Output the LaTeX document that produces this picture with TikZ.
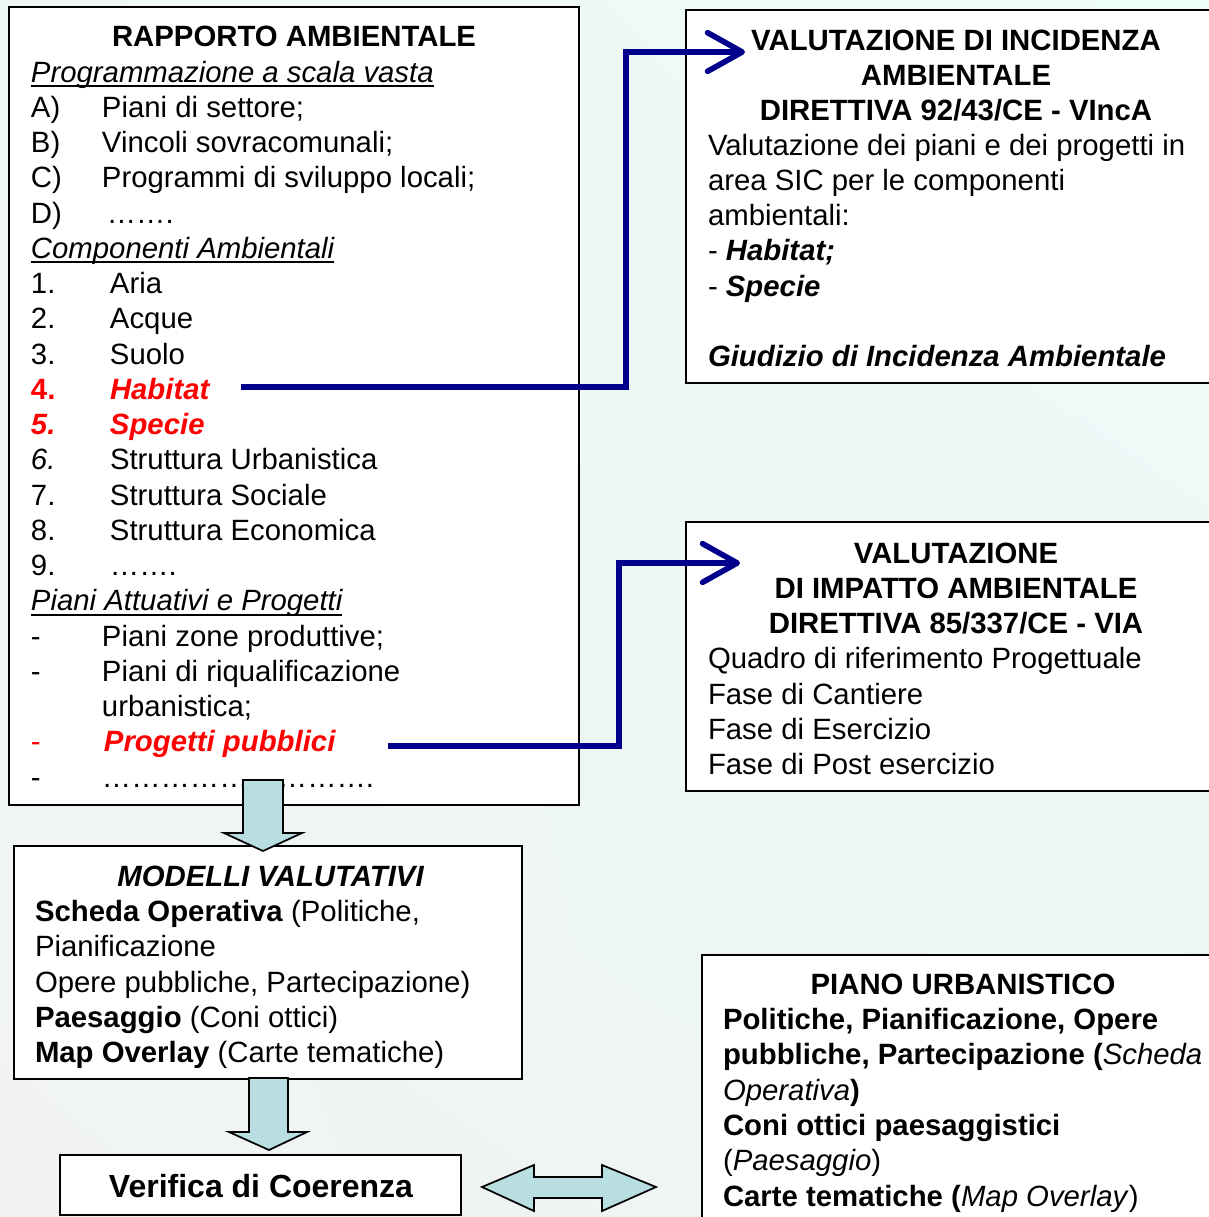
\documentclass[tikz,border=0pt]{standalone}
\usepackage{fontspec}
\setmainfont{Liberation Sans}
\usetikzlibrary{arrows.meta,fit,shadings}
\definecolor{navyline}{RGB}{0,0,140}
\definecolor{barrow}{RGB}{184,222,226}
\definecolor{bgul}{RGB}{238,247,245}
\definecolor{bgur}{RGB}{238,252,250}
\definecolor{bgll}{RGB}{241,243,242}
\definecolor{bglr}{RGB}{236,246,244}
\newcommand\fs{\fontsize{22}{26}\selectfont}
\newcommand\myul[1]{\setbox0\hbox{#1}\rlap{\rule[-3.8pt]{\wd0}{1.4pt}}\box0}
\newcommand\lbA[1]{\makebox[53.25pt][l]{#1}}
\newcommand\lbN[1]{\makebox[59.25pt][l]{#1}}
\begin{document}
\begin{tikzpicture}[x=0.75pt,y=-0.75pt,
  txt/.style={inner sep=0pt,outer sep=0pt,anchor=base west,font=\fs},
  ctxt/.style={txt,anchor=base},
  box/.style={draw=black,line width=1.4pt,fill=white,inner sep=0pt},
  conn/.style={draw=navyline,line width=4.2pt,line join=miter,-{Straight Barb[length=26pt,width=29pt,round]}},
  blockarrow/.style={draw=black,line width=1.3pt,fill=barrow,line join=miter}]
\useasboundingbox (0,0) rectangle (1209,1217);
\shade[upper left=bgul, upper right=bgur, lower left=bgll, lower right=bglr] (0,0) rectangle (1209,1217);

% boxes
\node[box,fit={(9,7) (579,805)}] (ra) {};
\node[box,fit={(686,10) (1230,383)}] (vinca) {};
\node[box,fit={(686,522) (1230,791)}] (via) {};
\node[box,fit={(14,846) (522,1079)}] (mod) {};
\node[box,fit={(60,1155) (461,1215)}] (ver) {};
\node[box,fit={(702,955) (1230,1240)}] (piano) {};

% Rapporto ambientale
\node[ctxt] (ratitle) at (294,46) {\bfseries RAPPORTO AMBIENTALE};
\node[txt] (ra0) at (31,82) {\myul{\itshape Programmazione a scala vasta}};
\node[txt] (ra1) at (31,117.25) {\lbA{A)}Piani di settore;};
\node[txt] (ra2) at (31,152.5) {\lbA{B)}Vincoli sovracomunali;};
\node[txt] (ra3) at (31,187.75) {\lbA{C)}Programmi di sviluppo locali;};
\node[txt] (ra4) at (31,223) {\lbA{D)}\,…….};
\node[txt] (ra5) at (31,258.25) {\myul{\itshape Componenti Ambientali}};
\node[txt] (ra6) at (31,293.5) {\lbN{1.}Aria};
\node[txt] (ra7) at (31,328.75) {\lbN{2.}Acque};
\node[txt] (ra8) at (31,364) {\lbN{3.}Suolo};
\node[txt,text=red] (hab) at (31,399.25) {\bfseries\lbN{4.}\itshape Habitat};
\node[txt,text=red] (spe) at (31,434.5) {\bfseries\itshape\lbN{5.}Specie};
\node[txt] (ra11) at (31,469.75) {\lbN{\itshape 6.}Struttura Urbanistica};
\node[txt] (ra12) at (31,505) {\lbN{7.}Struttura Sociale};
\node[txt] (ra13) at (31,540.25) {\lbN{8.}Struttura Economica};
\node[txt] (ra14) at (31,575.5) {\lbN{9.}…….};
\node[txt] (ra15) at (31,610.75) {\myul{\itshape Piani Attuativi e Progetti}};
\node[txt] (ra16) at (31,646) {\lbA{-}Piani zone produttive;};
\node[txt] (ra17) at (31,681.25) {\lbA{-}Piani di riqualificazione};
\node[txt] (ra18) at (31,716.5) {\lbA{}urbanistica;};
\node[txt,text=red] (pro) at (31,751.75) {\lbA{-}\kern1.5pt\bfseries\itshape Progetti pubblici};
\node[txt] (ra20) at (31,787) {\lbA{-}……………………….};

% VIncA
\node[ctxt] (vt1) at (956,50) {\bfseries VALUTAZIONE DI INCIDENZA};
\node[ctxt] (vt2) at (956,85) {\bfseries AMBIENTALE};
\node[ctxt] (vt3) at (956,120) {\bfseries DIRETTIVA 92/43/CE - VIncA};
\node[txt] (vb1) at (708,155) {Valutazione dei piani e dei progetti in};
\node[txt] (vb2) at (708,190.25) {area SIC per le componenti};
\node[txt] (vb3) at (708,225.5) {ambientali:};
\node[txt] (vb4) at (708,260.75) {- \textbf{\textit{Habitat;}}};
\node[txt] (vb5) at (708,296) {- \textbf{\textit{Specie}}};
\node[txt] (vb6) at (708,366.5) {\textbf{\textit{Giudizio di Incidenza Ambientale}}};

% VIA
\node[ctxt] (at1) at (956,563) {\bfseries VALUTAZIONE};
\node[ctxt] (at2) at (956,598) {\bfseries DI IMPATTO AMBIENTALE};
\node[ctxt] (at3) at (956,633) {\bfseries DIRETTIVA 85/337/CE - VIA};
\node[txt] (ab1) at (708,668.5) {Quadro di riferimento Progettuale};
\node[txt] (ab2) at (708,704) {Fase di Cantiere};
\node[txt] (ab3) at (708,739) {Fase di Esercizio};
\node[txt] (ab4) at (708,774) {Fase di Post esercizio};

% Modelli valutativi
\node[ctxt] (mt) at (270.5,886) {\bfseries\itshape MODELLI VALUTATIVI};
\node[txt] (m1) at (35,921) {\textbf{Scheda Operativa} (Politiche,};
\node[txt] (m2) at (35,956.5) {Pianificazione};
\node[txt] (m3) at (35,992) {Opere pubbliche, Partecipazione)};
\node[txt] (m4) at (35,1027) {\textbf{Paesaggio} (Coni ottici)};
\node[txt] (m5) at (35,1062) {\textbf{Map Overlay} (Carte tematiche)};

% Verifica
\node[ctxt,font=\fontsize{24}{28}\selectfont] (vt) at (261,1197) {\bfseries Verifica di Coerenza};

% Piano urbanistico
\node[ctxt] (pt) at (963,994) {\bfseries PIANO URBANISTICO};
\node[txt] (p1) at (723,1029) {\bfseries Politiche, Pianificazione, Opere};
\node[txt] (p2) at (723,1064.5) {\textbf{pubbliche, Partecipazione (}\textit{Scheda}};
\node[txt] (p3) at (723,1100) {\textit{Operativa}\textbf{)}};
\node[txt] (p4) at (723,1135) {\bfseries Coni ottici paesaggistici};
\node[txt] (p5) at (723,1170) {(\textit{Paesaggio})};
\node[txt] (p6) at (723,1206) {\textbf{Carte tematiche (}\textit{Map Overlay})};

% connectors
\coordinate (habout) at (241,387);
\coordinate (vincain) at (745,52);
\draw[conn] (habout) -| (626,52) -- (vincain);
\coordinate (proout) at (388,746);
\coordinate (viain) at (740,563);
\draw[conn] (proout) -| (619,563) -- (viain);

% block arrows
\draw[blockarrow] (243,780) -- (283,780) -- (283,833) -- (302,833) -- (263,851) -- (224,833) -- (243,833) -- cycle;
\draw[blockarrow] (249,1078) -- (288,1078) -- (288,1132) -- (307,1132) -- (269,1150) -- (229,1132) -- (249,1132) -- cycle;
\draw[blockarrow] (482,1187) -- (534,1165) -- (534,1177) -- (602,1177) -- (602,1165) -- (656,1187) -- (602,1211) -- (602,1198) -- (534,1198) -- (534,1211) -- cycle;
\end{tikzpicture}
\end{document}
